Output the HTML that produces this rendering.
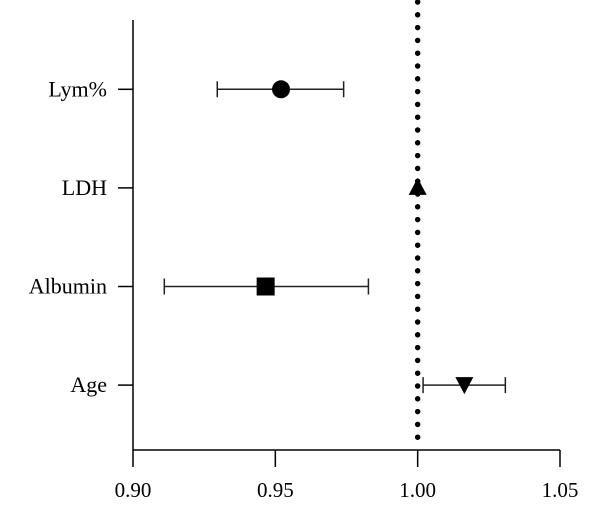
<!DOCTYPE html>
<html><head><meta charset="utf-8"><style>body{margin:0;background:#fff}svg{display:block}</style></head>
<body>
<svg id="chart" width="600" height="515" xmlns="http://www.w3.org/2000/svg" font-family="Liberation Serif, serif"></svg>
<script>
const categories = ["Lym%", "LDH", "Albumin", "Age"];
const estimates = [0.952, 1.000, 0.9466, 1.0164];
const lowerCI = [0.9296, 1.000, 0.911, 1.0019];
const upperCI = [0.974, 1.000, 0.9827, 1.0308];
const markers = ["circle", "triangle", "square", "triangle-down"];
const xTicks = [0.90, 0.95, 1.00, 1.05];
const xTickLabels = ["0.90", "0.95", "1.00", "1.05"];
const refValue = 1.0;

const NS = "http://www.w3.org/2000/svg";
const svg = document.getElementById("chart");
const x0 = 133, x1 = 560, axisY = 450;
const xScale = v => x0 + (v - 0.90) / (1.05 - 0.90) * (x1 - x0);
const yTop = 89.3, yStep = 98.6;
const yScale = i => yTop + i * yStep;
function mk(tag, attrs){const e=document.createElementNS(NS,tag);for(const k in attrs)e.setAttribute(k,attrs[k]);svg.appendChild(e);return e;}

let e = mk("line",{x1:x0,y1:20,x2:x0,y2:axisY,stroke:"#000","stroke-width":1.5});


e = mk("line",{x1:x0,y1:axisY,x2:x1,y2:axisY,stroke:"#000","stroke-width":1.5});


xTicks.forEach((t,i)=>{
  const x = xScale(t);
  let l = mk("line",{x1:x,y1:axisY,x2:x,y2:467,stroke:"#000","stroke-width":1.5});
  
  
  let tx = mk("text",{x:x,y:497,"text-anchor":"middle","font-size":21});
  tx.textContent = xTickLabels[i];
  
  
});
e = mk("line",{x1:xScale(refValue),y1:2,x2:xScale(refValue),y2:axisY-3,stroke:"#000","stroke-width":5.5,"stroke-linecap":"round","stroke-dasharray":"0 12.8"});



categories.forEach((c,i)=>{
  const y = yScale(i);
  let l = mk("line",{x1:118,y1:y,x2:x0,y2:y,stroke:"#000","stroke-width":1.5});
  
  
  let tx = mk("text",{x:107,y:y+7,"text-anchor":"end","font-size":22});
  tx.textContent = c;
  
  
  const lo = xScale(lowerCI[i]), hi = xScale(upperCI[i]);
  if (hi - lo > 1) {
    let ci = mk("path",{d:`M${lo},${y}H${hi}M${lo},${y-8}V${y+8}M${hi},${y-8}V${y+8}`,stroke:"#222","stroke-width":1.5,fill:"none"});
    
    
  }
  const cx = xScale(estimates[i]);
  let m;
  if (markers[i]==="circle") m = mk("circle",{cx:cx,cy:y,r:9,fill:"#000"});
  else if (markers[i]==="square") m = mk("rect",{x:cx-9,y:y-9,width:18,height:18,fill:"#000"});
  else if (markers[i]==="triangle") m = mk("path",{d:`M${cx},${y-10}L${cx+9},${y+7}L${cx-9},${y+7}Z`,fill:"#000"});
  else m = mk("path",{d:`M${cx-9},${y-8}L${cx+9},${y-8}L${cx},${y+9}Z`,fill:"#000"});
  
  
});
</script>
</body></html>
